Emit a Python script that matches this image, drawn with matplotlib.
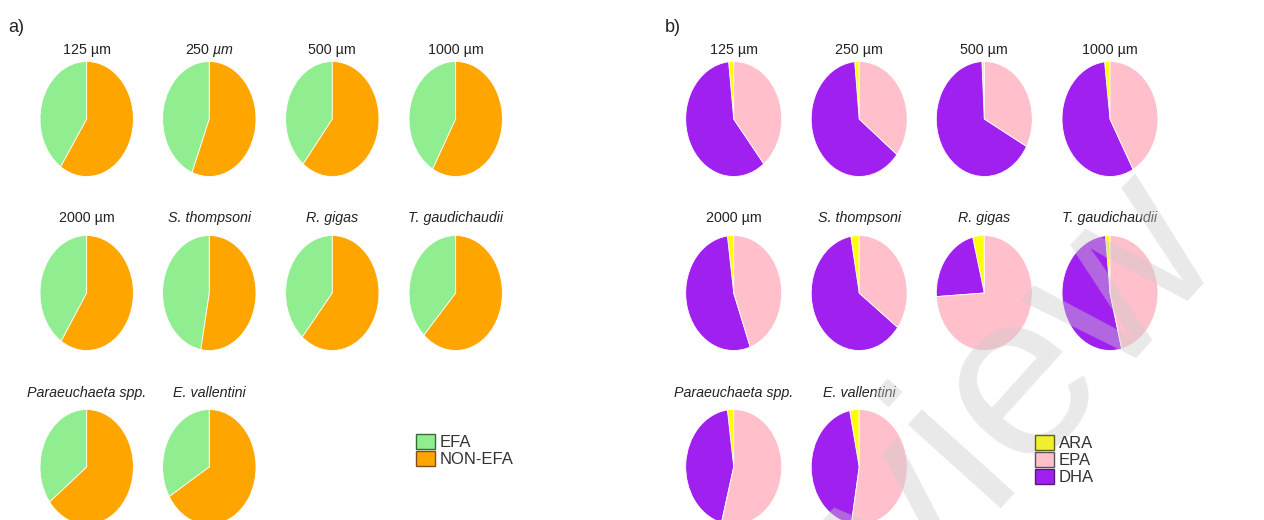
import matplotlib
matplotlib.use('Agg')
import matplotlib.pyplot as plt
from matplotlib.patches import Patch

plt.rcParams['font.family'] = ['Liberation Sans', 'DejaVu Sans']
plt.rcParams['mathtext.fontset'] = 'custom'
plt.rcParams['mathtext.it'] = 'Liberation Sans:italic'
plt.rcParams['mathtext.rm'] = 'Liberation Sans'

# panel a) essential / non-essential fatty acids (%)
labels_a = ['125 µm', r'250 $\mathit{µm}$', '500 µm', '1000 µm', '2000 µm',
            'S. thompsoni', 'R. gigas', 'T. gaudichaudii', 'Paraeuchaeta spp.', 'E. vallentini']
efa = [40.6, 44.0, 39.3, 41.8, 40.8, 47.1, 38.9, 38.1, 35.4, 33.6]
non_efa = [59.4, 56.0, 60.7, 58.2, 59.2, 52.9, 61.1, 61.9, 64.6, 66.4]

# panel b) ARA / DHA / EPA (%)
labels_b = ['125 µm', '250 µm', '500 µm', '1000 µm', '2000 µm',
            'S. thompsoni', 'R. gigas', 'T. gaudichaudii', 'Paraeuchaeta spp.', 'E. vallentini']
ara = [1.7, 1.5, 0.8, 1.8, 2.1, 2.8, 3.9, 1.5, 2.1, 3.2]
dha = [59.1, 62.9, 66.3, 56.2, 53.5, 62.0, 22.1, 52.4, 43.8, 44.2]
epa = [39.2, 35.6, 32.9, 42.0, 44.4, 35.2, 74.0, 46.1, 54.1, 52.6]
italic = [False]*5 + [True]*5

W, H = 1264, 520
fig = plt.figure(figsize=(W/100, H/100), dpi=100)

col_a = [86.7, 209.3, 332.3, 455.7]
col_b = [733.7, 859.2, 984.3, 1110.0]
rows = [119.0, 293.0, 467.0]
title_y = [54, 222, 397]
ry = 57.5


def pie_ax(cx, cy, rx):
    return fig.add_axes([(cx-rx)/W, 1-(cy+ry)/H, 2*rx/W, 2*ry/H])


def draw_panel(cols, rx, values, colors, labels):
    for i in range(len(labels)):
        r, c = divmod(i, 4)
        ax = pie_ax(cols[c], rows[r], rx)
        ax.pie([v[i] for v in values], colors=colors, startangle=90,
               wedgeprops=dict(edgecolor='white', linewidth=0.6))
        ax.set_aspect('auto')
        ax.set_xlim(-1, 1)
        ax.set_ylim(-1, 1)
        ax.axis('off')
        fig.text(cols[c]/W, 1-title_y[r]/H, labels[i], ha='center', va='baseline',
                 fontsize=10.3, color='#222222', style='italic' if italic[i] else 'normal')


draw_panel(col_a, 46.7, [efa, non_efa], ['#90EE90', '#FFA500'], labels_a)
draw_panel(col_b, 48.0, [ara, dha, epa], ['#FFFF00', '#A020F0', '#FFC0CB'], labels_b)

fig.text(8/W, 1-32/H, 'a)', fontsize=13, color='#222222')
fig.text(665/W, 1-32/H, 'b)', fontsize=13, color='#222222')

leg_kw = dict(loc='upper left', frameon=False, fontsize=12, handlelength=1.12,
              handleheight=1.0, handletextpad=0.3, labelspacing=0.06,
              borderpad=0, borderaxespad=0, labelcolor='#333333')
fig.legend(handles=[Patch(facecolor='#90EE90', edgecolor='#3a6a3a', label='EFA'),
                    Patch(facecolor='#FFA500', edgecolor='#7a5020', label='NON-EFA')],
           bbox_to_anchor=(416/W, 1-434/H), **leg_kw)
fig.legend(handles=[Patch(facecolor='#F0F030', edgecolor='#606020', label='ARA'),
                    Patch(facecolor='#FFC0CB', edgecolor='#555555', label='EPA'),
                    Patch(facecolor='#A020F0', edgecolor='#502070', label='DHA')],
           bbox_to_anchor=(1035/W, 1-435/H), **leg_kw)

# faint diagonal watermark, anchored at the start of its baseline (off canvas)
fig.text(660/W, 1-866/H, 'Preview', rotation=48, rotation_mode='anchor',
         ha='left', va='baseline', fontsize=170, color='0.8', alpha=0.42,
         family='Liberation Sans')

fig.savefig('out.png', dpi=100)
